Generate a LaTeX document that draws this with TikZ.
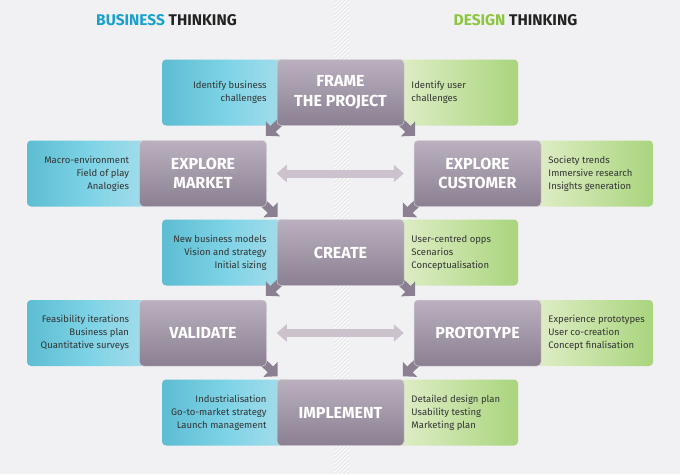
\documentclass[tikz,border=0pt]{standalone}
\usepackage{fontspec}
\setmainfont{Fira Sans}
\usetikzlibrary{arrows.meta,calc}
\pgfdeclarelayer{bg}
\pgfdeclarelayer{mid}
\pgfsetlayers{bg,mid,main}
\definecolor{bgc}{HTML}{F1F1F3}
\definecolor{stripec}{HTML}{EAEAED}
\definecolor{ptop}{HTML}{BAB0BE}
\definecolor{pbot}{HTML}{8B8092}
\definecolor{bl}{HTML}{5DBDD2}
\definecolor{bm}{HTML}{7ED3E6}
\definecolor{br}{HTML}{A8DEEB}
\definecolor{gl}{HTML}{E3EFCC}
\definecolor{gr}{HTML}{A9D57D}
\definecolor{txt}{HTML}{333333}
\definecolor{arrc}{HTML}{CBC2CD}
\definecolor{bizblue}{HTML}{1BA1CF}
\definecolor{desgreen}{HTML}{8CC63F}
\definecolor{headc}{HTML}{222222}
\begin{document}
\begin{tikzpicture}[x=1pt,y=-1pt,
  pbox/.style={rounded corners=4pt, top color=ptop, bottom color=pbot, draw=white!40!ptop, line width=0.5pt,
    text=white, font=\bfseries\fontsize{16}{19.5}\selectfont, align=center,
    minimum width=127pt, minimum height=66pt, inner sep=0pt},
  bbox/.style={rounded corners=4pt, left color=bl, right color=br, middle color=bm,
    minimum height=66pt, inner sep=0pt},
  gbox/.style={rounded corners=4pt, left color=gl, right color=gr,
    minimum height=66pt, inner sep=0pt},
  btext/.style={font=\fontsize{9.5}{13}\selectfont, text=txt, align=right, anchor=east, inner sep=0pt},
  gtext/.style={font=\fontsize{9.5}{13}\selectfont, text=txt, align=left, anchor=west, inner sep=0pt},
  tail/.style={draw=pbot, line width=8pt, -{Triangle[length=10pt,width=20pt]}},
  dbl/.style={draw=arrc, line width=8pt, {Triangle[length=10pt,width=17pt]}-{Triangle[length=10pt,width=17pt]},
    shorten >=10pt, shorten <=10pt},
  head/.style={font=\bfseries\fontsize{15.5}{17}\selectfont, text=headc}
]
\useasboundingbox (0,0) rectangle (680,474);
\begin{pgfonlayer}{bg}
  \fill[bgc] (0,0) rectangle (680,474);
  \begin{scope}
    \clip (335,0) rectangle (349,474);
    \fill[stripec] (335,0) rectangle (349,474);
    \foreach \i in {-20,-16,...,490} \draw[white, line width=0.9pt] (335,\i) -- (349,\i-14);
  \end{scope}
  % side boxes
  \node[bbox, minimum width=128pt] (b1) at (226,92.5) {};
  \node[gbox, minimum width=127pt] (g1) at (454.5,92.5) {};
  \node[bbox, minimum width=125pt] (b2) at (89.5,173.5) {};
  \node[gbox, minimum width=125pt] (g2) at (590.5,173.5) {};
  \node[bbox, minimum width=128pt] (b3) at (226,252.5) {};
  \node[gbox, minimum width=127pt] (g3) at (454.5,252.5) {};
  \node[bbox, minimum width=125pt] (b4) at (89.5,333) {};
  \node[gbox, minimum width=125pt] (g4) at (590.5,333) {};
  \node[bbox, minimum width=128pt] (b5) at (226,412.5) {};
  \node[gbox, minimum width=127pt] (g5) at (454.5,412.5) {};
\end{pgfonlayer}

\node[head] at (166.5,20.5) {\textcolor{bizblue}{BUSINESS} THINKING};
\node[head] at (515.5,20.5) {\textcolor{desgreen}{DESIGN} THINKING};

% main purple boxes
\node[pbox] (frame) at (340.5,92.5) {FRAME\\THE PROJECT};
\node[pbox] (market) at (203,173.5) {EXPLORE\\MARKET};
\node[pbox] (customer) at (477.5,173.5) {EXPLORE\\CUSTOMER};
\node[pbox] (create) at (340.5,252.5) {CREATE};
\node[pbox] (validate) at (203,333) {VALIDATE};
\node[pbox] (prototype) at (477.5,333) {PROTOTYPE};
\node[pbox] (implement) at (340.5,412.5) {IMPLEMENT};

% side texts
\node[btext] (t1) at ([xshift=-10pt]frame.west) {Identify business\\challenges};
\node[gtext] (u1) at ([xshift=7pt]frame.east) {Identify user\\challenges};
\node[btext] (t2) at ([xshift=-10pt]market.west) {Macro-environment\\Field of play\\Analogies};
\node[gtext] (u2) at ([xshift=7pt]customer.east) {Society trends\\Immersive research\\Insights generation};
\node[btext] (t3) at ([xshift=-10pt]create.west) {New business models\\Vision and strategy\\Initial sizing};
\node[gtext] (u3) at ([xshift=7pt]create.east) {User-centred opps\\Scenarios\\Conceptualisation};
\node[btext] (t4) at ([xshift=-10pt]validate.west) {Feasibility iterations\\Business plan\\Quantitative surveys};
\node[gtext] (u4) at ([xshift=7pt]prototype.east) {Experience prototypes\\User co-creation\\Concept finalisation};
\node[btext] (t5) at ([xshift=-10pt]implement.west) {Industrialisation\\Go-to-market strategy\\Launch management};
\node[gtext] (u5) at ([xshift=7pt]implement.east) {Detailed design plan\\Usability testing\\Marketing plan};

% tails (arrows between stages)
\coordinate (fa) at ($(frame.south west)+(-11,10)$);
\coordinate (fb) at ($(frame.south east)+(11,10)$);
\coordinate (ma) at ($(market.south east)+(11,10)$);
\coordinate (ca) at ($(customer.south west)+(-11,10)$);
\coordinate (cra) at ($(create.south west)+(-11,10)$);
\coordinate (crb) at ($(create.south east)+(11,10)$);
\coordinate (va) at ($(validate.south east)+(11,10)$);
\coordinate (pa) at ($(prototype.south west)+(-11,10)$);
\begin{pgfonlayer}{mid}
  \draw[tail] ($(frame.south west)+(7,-7)$) -- (fa);
  \draw[tail] ($(frame.south east)+(-7,-7)$) -- (fb);
  \draw[tail] ($(market.south east)+(-7,-7)$) -- (ma);
  \draw[tail] ($(customer.south west)+(7,-7)$) -- (ca);
  \draw[tail] ($(create.south west)+(7,-7)$) -- (cra);
  \draw[tail] ($(create.south east)+(-7,-7)$) -- (crb);
  \draw[tail] ($(validate.south east)+(-7,-7)$) -- (va);
  \draw[tail] ($(prototype.south west)+(7,-7)$) -- (pa);
\end{pgfonlayer}

% double arrows
\draw[dbl] (market.east) -- (customer.west);
\draw[dbl] (validate.east) -- (prototype.west);
\end{tikzpicture}
\end{document}
